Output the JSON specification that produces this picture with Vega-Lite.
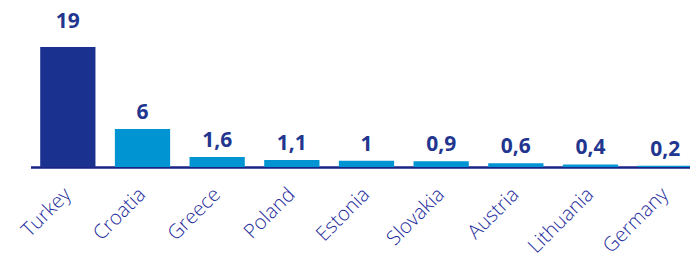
{
  "$schema": "https://vega.github.io/schema/vega-lite/v6.json",
  "autosize": "none",
  "width": 672,
  "height": 167,
  "padding": {"left": 30.5, "top": 0, "right": 0, "bottom": 87},
  "background": "white",
  "config": {"view": {"stroke": null}, "font": "Open Sans"},
  "data": {
    "values": [
      {"country": "Turkey", "value": 19, "label": "19", "hl": "a"},
      {"country": "Croatia", "value": 6, "label": "6", "hl": "b"},
      {"country": "Greece", "value": 1.6, "label": "1,6", "hl": "b"},
      {"country": "Poland", "value": 1.1, "label": "1,1", "hl": "b"},
      {"country": "Estonia", "value": 1, "label": "1", "hl": "b"},
      {"country": "Slovakia", "value": 0.9, "label": "0,9", "hl": "b"},
      {"country": "Austria", "value": 0.6, "label": "0,6", "hl": "b"},
      {"country": "Lithuania", "value": 0.4, "label": "0,4", "hl": "b"},
      {"country": "Germany", "value": 0.2, "label": "0,2", "hl": "b"}
    ]
  },
  "encoding": {
    "x": {
      "field": "country", "type": "nominal", "sort": null,
      "scale": {"paddingInner": 0.26, "paddingOuter": 0.13},
      "axis": {
        "title": null, "labelAngle": -45, "labelAlign": "right", "labelBaseline": "middle",
        "labelFontSize": 20, "labelFontWeight": 300, "labelColor": "#1e2c9c", "labelPadding": 24,
        "ticks": false, "domainColor": "#1a2386", "domainWidth": 2.5, "labelFont": "Open Sans"
      }
    },
    "y": {
      "field": "value", "type": "quantitative",
      "scale": {"domain": [0, 26.44], "nice": false},
      "axis": null
    }
  },
  "layer": [
    {
      "mark": {"type": "bar"},
      "encoding": {
        "color": {
          "field": "hl", "type": "nominal", "legend": null,
          "scale": {"domain": ["a", "b"], "range": ["#1b3190", "#0094d3"]}
        }
      }
    },
    {
      "transform": [{"filter": "datum.hl == 'a'"}],
      "mark": {"type": "text", "dy": -19, "fontSize": 21, "fontWeight": "bold", "color": "#22368f", "baseline": "alphabetic"},
      "encoding": {"text": {"field": "label"}}
    },
    {
      "transform": [{"filter": "datum.hl == 'b'"}],
      "mark": {"type": "text", "dy": -10, "fontSize": 21, "fontWeight": "bold", "color": "#22368f", "baseline": "alphabetic"},
      "encoding": {"text": {"field": "label"}}
    }
  ]
}
